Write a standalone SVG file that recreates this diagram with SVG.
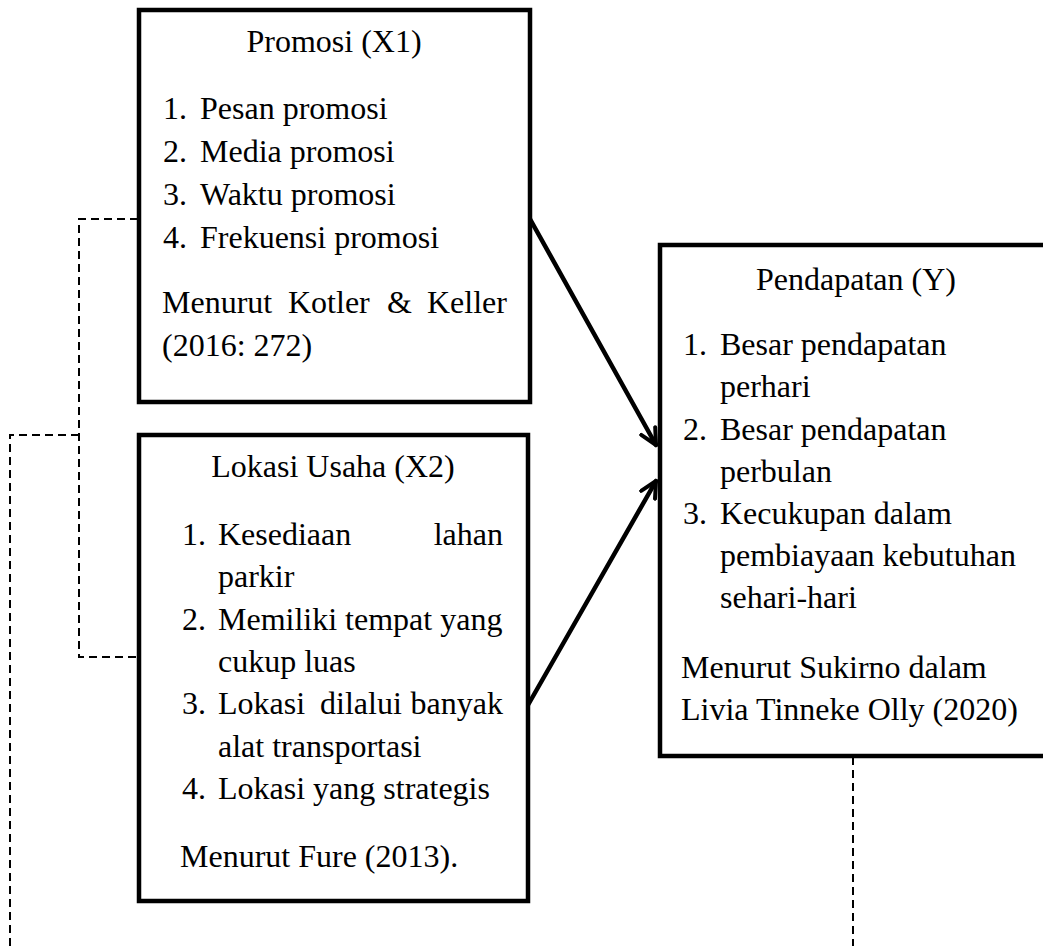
<svg xmlns="http://www.w3.org/2000/svg" width="1043" height="946" viewBox="0 0 1043 946">
<style>
.box{fill:#fff;stroke:#000;stroke-width:4.5}
.t{font-family:"Liberation Serif","Times New Roman",serif;font-size:32px;fill:#000}
.c{text-anchor:middle}
.e{text-anchor:end}
.dash{fill:none;stroke:#000;stroke-width:2;stroke-dasharray:8,5}
.arr{fill:none;stroke:#000;stroke-width:4.5;stroke-linecap:round}
</style>
<defs>
<marker id="ah" viewBox="0 0 20 20" refX="18" refY="10" markerWidth="20" markerHeight="20" markerUnits="userSpaceOnUse" orient="auto">
<path d="M2,2 L18,10 L2,18" fill="none" stroke="#000" stroke-width="4" stroke-linecap="round" stroke-linejoin="miter"/>
</marker>
</defs>
<rect width="1043" height="946" fill="#fff"/>
<g id="connectors">
<polyline class="dash" points="138,219 79,219 79,657 138,657"/>
<polyline class="dash" points="79,435 10,435 10,946"/>
<line class="dash" x1="853" y1="757" x2="853" y2="946"/>
<line class="arr" x1="530" y1="219" x2="656" y2="445" marker-end="url(#ah)"/>
<line class="arr" x1="528" y1="705" x2="656" y2="481" marker-end="url(#ah)"/>
</g>
<g id="promosi">
<rect class="box" x="139" y="10" width="391" height="392"/>
<text class="t c" x="334" y="52">Promosi (X1)</text>
<text class="t" x="163" y="119">1.</text><text class="t" x="200" y="119">Pesan promosi</text>
<text class="t" x="163" y="162">2.</text><text class="t" x="200" y="162">Media promosi</text>
<text class="t" x="163" y="205">3.</text><text class="t" x="200" y="205">Waktu promosi</text>
<text class="t" x="163" y="248">4.</text><text class="t" x="200" y="248">Frekuensi promosi</text>
<text class="t" y="313"><tspan x="162">Menurut</tspan><tspan x="288">Kotler</tspan><tspan x="387">&amp;</tspan><tspan x="427">Keller</tspan></text>
<text class="t" x="162" y="356">(2016: 272)</text>
</g>
<g id="lokasi">
<rect class="box" x="139" y="435" width="389" height="466"/>
<text class="t c" x="333" y="477">Lokasi Usaha (X2)</text>
<text class="t" x="182" y="545">1.</text><text class="t" x="218" y="545">Kesediaan</text><text class="t e" x="503" y="545">lahan</text>
<text class="t" x="218" y="587">parkir</text>
<text class="t" x="182" y="630">2.</text><text class="t" x="218" y="630">Memiliki tempat yang</text>
<text class="t" x="218" y="672">cukup luas</text>
<text class="t" x="182" y="714">3.</text><text class="t" y="714"><tspan x="218">Lokasi</tspan><tspan x="320">dilalui</tspan></text><text class="t e" x="503" y="714">banyak</text>
<text class="t" x="218" y="757">alat transportasi</text>
<text class="t" x="182" y="799">4.</text><text class="t" x="218" y="799">Lokasi yang strategis</text>
<text class="t" x="180" y="867">Menurut Fure (2013).</text>
</g>
<g id="pendapatan">
<rect class="box" x="660" y="245" width="420" height="511"/>
<text class="t c" x="856" y="290">Pendapatan (Y)</text>
<text class="t" x="683" y="355">1.</text><text class="t" x="720" y="355">Besar pendapatan</text>
<text class="t" x="720" y="397">perhari</text>
<text class="t" x="683" y="440">2.</text><text class="t" x="720" y="440">Besar pendapatan</text>
<text class="t" x="720" y="482">perbulan</text>
<text class="t" x="683" y="524">3.</text><text class="t" x="720" y="524">Kecukupan dalam</text>
<text class="t" x="720" y="566">pembiayaan kebutuhan</text>
<text class="t" x="720" y="608">sehari-hari</text>
<text class="t" x="681" y="678">Menurut Sukirno dalam</text>
<text class="t" x="681" y="720">Livia Tinneke Olly (2020)</text>
</g>
</svg>
